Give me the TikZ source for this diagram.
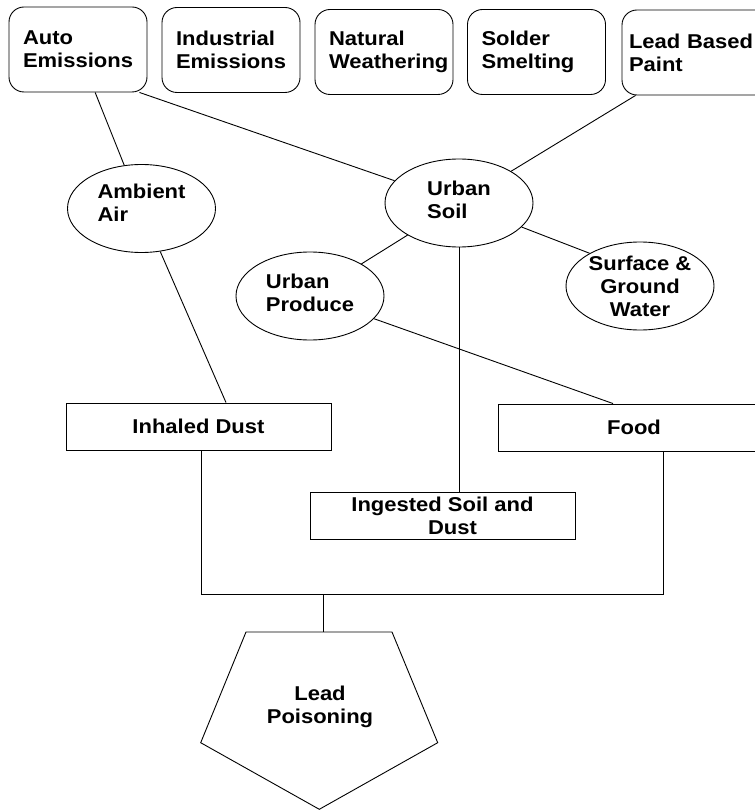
\documentclass[tikz,border=0pt]{standalone}
\usepackage{fontspec}
\setmainfont{Liberation Sans}[FakeStretch=1.1]
\usetikzlibrary{shapes.geometric}
\begin{document}
\begin{tikzpicture}
  [x=1pt,y=-1pt,line width=0.9pt,
   every node/.style={font=\fontsize{20}{23}\selectfont\bfseries},
   source/.style={draw,rounded corners=15pt,minimum height=85pt,
     text width=110pt,inner xsep=14pt,align=left},
   medium/.style={draw,ellipse,inner sep=-3pt,minimum width=148pt,
     minimum height=88pt,align=left},
   route/.style={draw,minimum width=265pt,minimum height=47pt,
     inner sep=0pt,align=center}]
  \useasboundingbox (0,0) rectangle (754,810);

  \node[source] (auto) at (78,49.5) {Auto\\Emissions};
  \node[source] (industrial) at (231,50) {Industrial\\Emissions};
  \node[source] (natural) at (384,52) {Natural\\Weathering};
  \node[source] (solder) at (536.5,52) {Solder\\Smelting};
  \node[source,inner xsep=7pt,text width=146pt] (paint) at (702,52.5)
    {Lead Based\\Paint};

  \node[medium] (ambient) at (141.5,208.5) {Ambient\\Air\\[-12pt]};
  \node[medium] (usoil) at (459,203) {Urban\\Soil\\[-16pt]};
  \node[medium] (uproduce) at (310,296) {Urban\\Produce\\[-16pt]};
  \node[medium,align=center] (water) at (640,286)
    {Surface \&\\Ground\\Water};

  \node[route] (inhaled) at (198.5,426.5) {Inhaled Dust};
  \node[route,minimum width=272pt] (food) at (634,427.5) {Food};
  \node[route] (ingested) at (442.5,515.5)
    {Ingested Soil and\\\hspace*{20pt}Dust};

  \node[align=center] (poison) at (320,707) {Lead\\Poisoning};
  \draw (246,632) -- (392,632) -- (437.7,742.7) -- (319.3,809.3)
    -- (200.7,742.7) -- cycle;
  \coordinate (ptop) at (323,632);
  \coordinate (bus) at (323,594.5);

  \draw (auto) -- (ambient);
  \draw ([xshift=-8pt]auto.south east) -- (usoil);
  \draw ([xshift=14pt]paint.south west) -- (usoil);
  \draw (usoil) -- (uproduce);
  \draw (usoil.-21) -- (water.147);
  \draw (usoil.south) -- (usoil.south |- ingested.north);
  \draw (uproduce) -- ([xshift=-21pt]food.north);
  \draw (ambient) -- ([xshift=27.5pt]inhaled.north);
  \draw ([xshift=2.5pt]inhaled.south) |- (bus) -| ([xshift=29pt]food.south);
  \draw (bus) -- (ptop);

\end{tikzpicture}
\end{document}
